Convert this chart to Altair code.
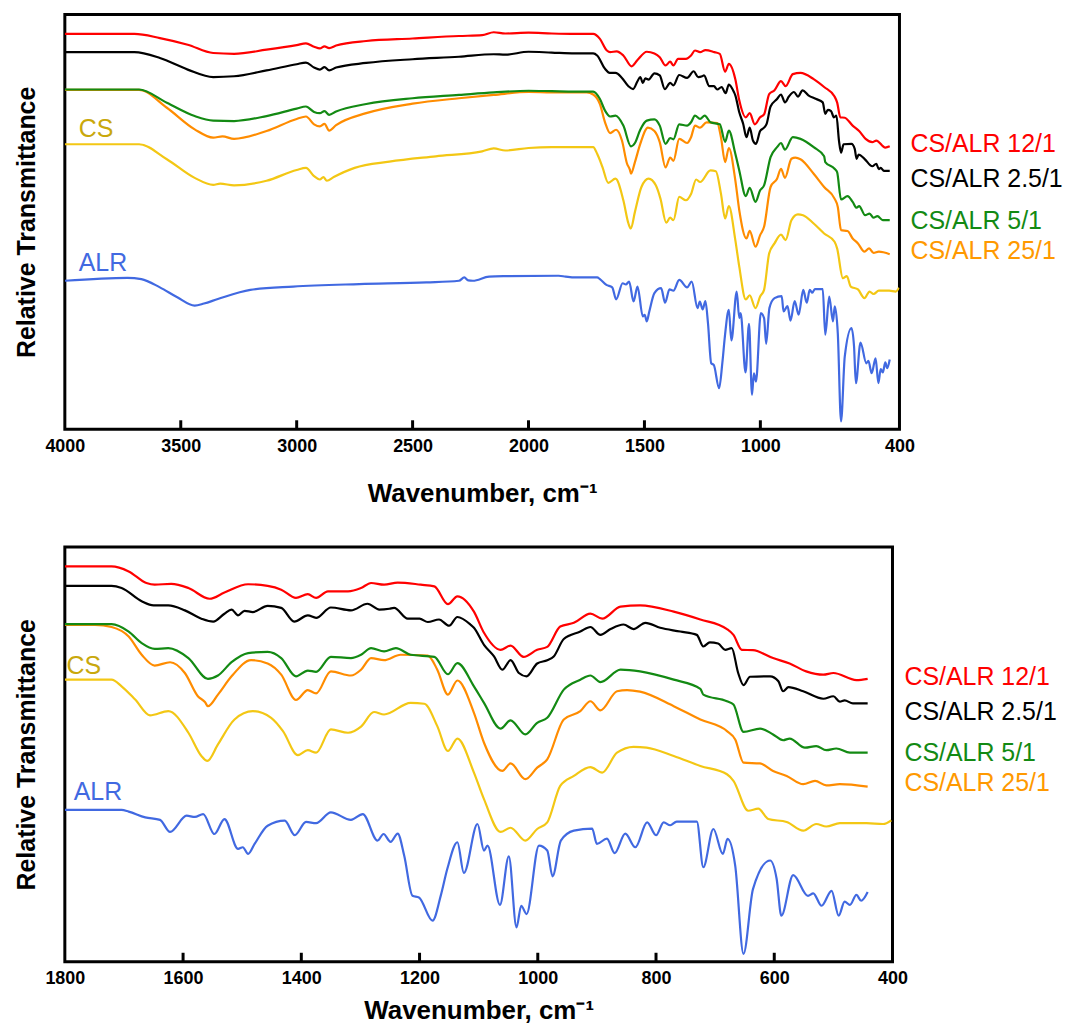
import altair as alt
import pandas as pd

# ---- spectra: (wavenumber cm-1, relative transmittance, arbitrary 0-100) ----
RED_12 = [(4000,95.3),(3700,95.3),(3590,94.3),(3470,92.7),(3360,90.7),(3270,90.5),(3130,91.5),(3000,92.6),(2960,93.0),(2925,92.2),(2900,91.8),(2880,92.3),(2860,91.9),(2830,92.5),(2700,93.6),(2500,94.2),(2300,94.8),(2200,95.0),(2150,95.7),(2100,95.4),(2000,95.6),(1900,95.4),(1800,95.3),(1721,95.3),(1692,94.1),(1662,91.3),(1648,90.9),(1620,91.1),(1591,90.1),(1555,87.5),(1530,89.0),(1490,91.0),(1457,90.6),(1434,89.7),(1409,87.7),(1389,88.6),(1375,87.7),(1355,89.3),(1321,89.3),(1299,90.1),(1282,91.3),(1260,90.9),(1237,91.4),(1198,90.9),(1175,90.5),(1152,86.2),(1136,88.1),(1108,84.4),(1091,79.3),(1063,75.2),(1046,76.2),(1024,73.5),(1001,75.2),(984,75.9),(962,80.8),(939,81.7),(911,83.9),(891,82.7),(860,85.6),(827,85.9),(770,84.4),(725,82.5),(680,80.2),(669,78.8),(655,75.2),(636,75.1),(602,73.2),(574,71.9),(546,70.0),(517,69.2),(500,69.6),(461,67.9),(442,68.2)]

BLACK_2_5 = [(4000,90.9),(3700,90.9),(3590,89.5),(3470,86.7),(3360,84.9),(3270,85.1),(3130,86.5),(3000,88.0),(2960,88.4),(2925,87.2),(2900,86.7),(2880,87.3),(2860,86.5),(2830,87.2),(2700,88.3),(2500,89.2),(2300,89.8),(2150,90.4),(2100,90.3),(2000,91.0),(1900,90.8),(1800,90.6),(1721,90.6),(1704,90.1),(1670,86.9),(1650,85.9),(1625,85.9),(1597,84.7),(1569,82.7),(1549,82.0),(1530,83.9),(1518,84.9),(1507,83.5),(1496,84.6),(1482,84.3),(1457,85.8),(1434,85.3),(1412,82.0),(1389,83.5),(1375,82.9),(1350,85.4),(1316,84.7),(1288,86.3),(1268,84.9),(1251,85.1),(1243,85.3),(1220,82.7),(1200,82.7),(1186,81.9),(1167,82.5),(1150,81.0),(1136,83.1),(1114,81.3),(1108,80.5),(1091,76.4),(1074,73.6),(1060,70.4),(1046,72.7),(1032,69.6),(1019,68.8),(1001,71.9),(984,72.7),(973,73.6),(956,77.8),(928,79.6),(911,80.7),(894,78.8),(877,80.2),(855,81.3),(838,80.2),(818,81.7),(793,80.5),(759,79.6),(731,78.8),(720,76.0),(709,77.0),(695,76.7),(683,75.2),(672,75.6),(661,69.6),(652,66.7),(641,68.7),(607,68.8),(593,67.6),(585,65.2),(576,66.2),(551,65.2),(517,63.4),(500,64.0),(489,62.7),(481,63.0),(467,62.3),(442,62.3)]

GREEN_5 = [(4000,81.9),(3680,81.9),(3560,78.7),(3440,75.5),(3360,74.4),(3270,74.3),(3130,75.5),(3000,77.3),(2960,77.8),(2925,76.5),(2900,76.2),(2880,76.7),(2860,75.8),(2830,76.6),(2700,78.4),(2500,79.8),(2300,80.6),(2150,81.2),(2000,81.6),(1900,81.5),(1800,81.4),(1721,81.4),(1692,79.6),(1670,76.8),(1648,75.4),(1625,75.6),(1591,73.2),(1558,68.2),(1541,69.0),(1518,72.2),(1490,74.4),(1457,74.7),(1434,73.2),(1409,68.8),(1389,70.2),(1375,69.9),(1350,73.5),(1316,73.2),(1299,74.0),(1282,75.6),(1260,74.8),(1240,75.6),(1215,74.0),(1175,73.5),(1152,69.3),(1136,72.0),(1108,66.4),(1091,62.4),(1063,56.2),(1046,58.2),(1021,54.8),(1001,57.6),(984,58.8),(956,65.6),(928,68.0),(911,69.0),(894,67.4),(860,70.4),(827,70.0),(770,68.0),(725,65.8),(720,64.4),(680,62.8),(669,62.0),(652,55.4),(624,56.2),(602,54.8),(585,53.4),(574,53.8),(548,51.6),(529,52.0),(512,51.0),(495,51.4),(472,50.4),(442,50.4)]

ORANGE_25 = [(4000,81.8),(3680,81.8),(3560,77.5),(3440,72.3),(3360,70.3),(3320,70.6),(3270,70.0),(3130,71.9),(3000,74.8),(2960,75.4),(2925,73.5),(2900,73.0),(2880,73.6),(2860,72.0),(2830,73.3),(2700,76.2),(2500,78.5),(2300,79.8),(2150,80.6),(2000,81.3),(1900,81.2),(1800,81.2),(1749,81.2),(1721,80.7),(1692,78.4),(1670,74.0),(1648,71.4),(1622,72.2),(1597,69.6),(1575,64.0),(1563,62.6),(1558,61.6),(1541,64.4),(1518,68.8),(1485,72.7),(1457,71.9),(1434,69.2),(1409,63.1),(1389,65.5),(1375,64.7),(1350,70.0),(1316,69.0),(1299,70.4),(1282,73.2),(1260,72.7),(1232,74.0),(1186,73.8),(1170,70.4),(1152,64.4),(1136,67.8),(1108,60.0),(1091,52.8),(1060,46.0),(1046,47.8),(1021,44.0),(1001,46.8),(984,48.8),(956,58.4),(928,60.4),(911,62.8),(894,60.6),(866,65.2),(849,65.5),(827,65.1),(770,61.6),(725,58.4),(680,55.6),(666,53.6),(652,48.0),(624,47.8),(602,46.0),(579,44.8),(551,42.8),(531,43.6),(512,42.5),(489,42.8),(442,42.2)]

YELLOW_CS = [(4000,68.7),(3680,68.7),(3560,65.1),(3440,60.6),(3360,58.9),(3330,59.2),(3270,58.8),(3130,59.9),(3000,62.5),(2960,63.0),(2925,61.0),(2900,60.2),(2885,60.8),(2870,59.9),(2840,60.8),(2750,63.0),(2600,64.5),(2400,65.8),(2200,67.0),(2150,67.7),(2100,67.2),(2000,67.8),(1900,68.0),(1800,68.0),(1721,68.0),(1704,66.4),(1681,63.2),(1656,59.4),(1625,60.4),(1591,55.2),(1569,49.6),(1559,48.4),(1541,52.4),(1513,58.4),(1482,60.4),(1451,58.8),(1431,55.6),(1406,49.8),(1389,51.0),(1375,50.4),(1350,56.0),(1321,55.2),(1299,56.7),(1277,60.2),(1260,59.6),(1215,62.4),(1192,62.2),(1170,56.8),(1152,50.8),(1136,53.8),(1108,45.6),(1091,39.2),(1063,31.3),(1046,32.3),(1021,29.2),(1001,32.0),(984,33.6),(962,42.4),(939,44.8),(911,46.9),(891,45.6),(866,50.4),(838,51.8),(816,51.6),(770,49.6),(725,47.2),(680,45.2),(669,43.6),(644,36.4),(627,36.9),(610,34.4),(579,33.7),(551,31.6),(529,33.2),(512,32.6),(489,33.4),(444,33.4),(416,33.2),(402,34.1)]

BLUE_ALR = [(4000,35.8),(3730,36.5),(3670,36.2),(3590,34.2),(3515,31.8),(3440,29.8),(3400,30.3),(3340,31.4),(3200,33.6),(3015,34.4),(2730,35.0),(2440,35.4),(2300,35.8),(2277,36.6),(2260,35.9),(2240,35.8),(2170,36.8),(2100,36.9),(1870,37.0),(1840,36.8),(1800,36.6),(1704,36.6),(1692,36.2),(1664,34.8),(1639,34.2),(1622,31.3),(1594,35.2),(1580,34.9),(1566,35.6),(1547,30.8),(1530,34.4),(1507,27.2),(1499,27.6),(1490,26.0),(1479,28.4),(1457,32.8),(1428,34.0),(1411,30.5),(1392,33.7),(1375,33.4),(1350,36.0),(1316,34.2),(1296,35.6),(1271,29.2),(1261,30.8),(1249,28.9),(1237,30.9),(1226,25.6),(1212,15.9),(1201,15.5),(1178,9.9),(1164,16.0),(1153,22.4),(1136,28.8),(1125,21.4),(1102,33.2),(1091,26.8),(1085,28.0),(1064,13.7),(1049,25.4),(1036,8.3),(1028,13.5),(1019,11.5),(998,28.0),(984,26.8),(975,20.6),(961,29.2),(939,31.6),(908,32.1),(900,28.4),(883,29.7),(870,26.2),(852,30.9),(835,27.6),(815,33.6),(800,30.5),(787,33.6),(776,32.9),(765,33.8),(731,33.8),(720,22.8),(703,32.0),(687,26.0),(679,29.6),(666,23.1),(652,1.9),(636,17.5),(607,24.4),(596,20.0),(588,11.1),(568,20.9),(543,15.9),(534,16.5),(520,13.5),(503,17.1),(491,11.1),(481,14.5),(472,13.7),(461,16.1),(453,14.7),(442,16.8)]

# drawing order (first drawn at the bottom) and colours
SERIES = [
    ("CS", YELLOW_CS, "#f3c714"),
    ("ALR", BLUE_ALR, "#4169e1"),
    ("CS/ALR 25/1", ORANGE_25, "#ff8c00"),
    ("CS/ALR 5/1", GREEN_5, "#138a13"),
    ("CS/ALR 2.5/1", BLACK_2_5, "#000000"),
    ("CS/ALR 12/1", RED_12, "#ff0000"),
]

# right-hand labels
SIDE_LABELS = ["CS/ALR 12/1", "CS/ALR 2.5/1", "CS/ALR 5/1", "CS/ALR 25/1"]
SIDE_LABEL_Y = [68.75, 60.3, 50.2, 43.0]
SIDE_LABEL_COLORS = ["#ff0000", "#000000", "#138a13", "#ff9900"]

# in-plot labels
TOP_INNER = [("CS", 3940, 72.4, "#c9a80c"), ("ALR", 3940, 40.0, "#4169e1")]
BOT_INNER = [("CS", 1797, 71.3, "#c9a80c"), ("ALR", 1785, 41.0, "#4169e1")]

TOP_TICKS = [4000, 3500, 3000, 2500, 2000, 1500, 1000, 400]
BOT_TICKS = [1800, 1600, 1400, 1200, 1000, 800, 600, 400]

FONT = "Liberation Sans"


def panel(xmin, xmax, w, h, tick_values, inner, side_dx, label_pad, title_pad):
    xscale = alt.Scale(domain=[xmin, xmax], reverse=True, nice=False, zero=False)
    yscale = alt.Scale(domain=[0, 100], nice=False, zero=False)
    xaxis = alt.Axis(values=tick_values, format="d", title="Wavenumber, cm⁻¹",
                     ticks=False, domain=False, grid=False,
                     labelFontSize=18, labelFontWeight="bold", labelColor="black",
                     labelPadding=label_pad, labelFlush=False, labelOverlap=False,
                     titleFontSize=26, titleFontWeight="bold", titleColor="black",
                     titlePadding=title_pad, titleFont=FONT, labelFont=FONT)
    yaxis = alt.Axis(title="Relative Transmittance", labels=False, ticks=False,
                     domain=False, grid=False, titleFontSize=25, titleFontWeight="bold",
                     titleColor="black", titlePadding=25, titleFont=FONT)
    layers = []
    first = True
    for name, pts, col in SERIES:
        df = pd.DataFrame(pts, columns=["wn", "v"])
        df = df[(df.wn <= xmax + 1e-9)]
        df["series"] = name
        if first:
            xe = alt.X("wn:Q", scale=xscale, axis=xaxis)
            ye = alt.Y("v:Q", scale=yscale, axis=yaxis)
        else:
            xe = alt.X("wn:Q", scale=xscale)
            ye = alt.Y("v:Q", scale=yscale)
        layers.append(
            alt.Chart(df).mark_line(color=col, strokeWidth=2.2, clip=True,
                                    interpolate="monotone").encode(
                x=xe, y=ye, order=alt.Order("wn:Q"),
            )
        )
        first = False
    # inward ticks
    tdf = pd.DataFrame({"wn": [t for t in tick_values if xmin < t < xmax]})
    layers.append(
        alt.Chart(tdf).mark_rule(color="black", strokeWidth=3).encode(
            x=alt.X("wn:Q", scale=xscale),
            y=alt.value(h - 9), y2=alt.value(h))
    )
    # inner labels
    idf = pd.DataFrame(inner, columns=["label", "wn", "v", "col"])
    layers.append(
        alt.Chart(idf).mark_text(align="left", baseline="middle", fontSize=25, font=FONT).encode(
            x=alt.X("wn:Q", scale=xscale),
            y=alt.Y("v:Q", scale=yscale),
            text="label:N",
            color=alt.Color("col:N", scale=None),
        )
    )
    # side labels
    sdf = pd.DataFrame({"label": SIDE_LABELS, "v": SIDE_LABEL_Y, "col": SIDE_LABEL_COLORS})
    layers.append(
        alt.Chart(sdf).mark_text(align="left", baseline="middle", fontSize=25, font=FONT).encode(
            x=alt.value(w + side_dx),
            y=alt.Y("v:Q", scale=yscale),
            text="label:N",
            color=alt.Color("col:N", scale=None),
        )
    )
    return alt.layer(*layers).properties(width=w, height=h)


top = panel(400, 4000, 837, 416, TOP_TICKS, TOP_INNER, 11, 8, 25)
bottom = panel(400, 1800, 830, 416, BOT_TICKS, BOT_INNER, 12, 8, 10)

chart = alt.vconcat(top, bottom, spacing=37).properties(
    padding={"left": 5, "top": 3, "right": 0, "bottom": 0}
).configure(font=FONT, background="white").configure_view(stroke="black", strokeWidth=3)

chart.save("out.html", embed_options={"renderer": "svg", "actions": False})
